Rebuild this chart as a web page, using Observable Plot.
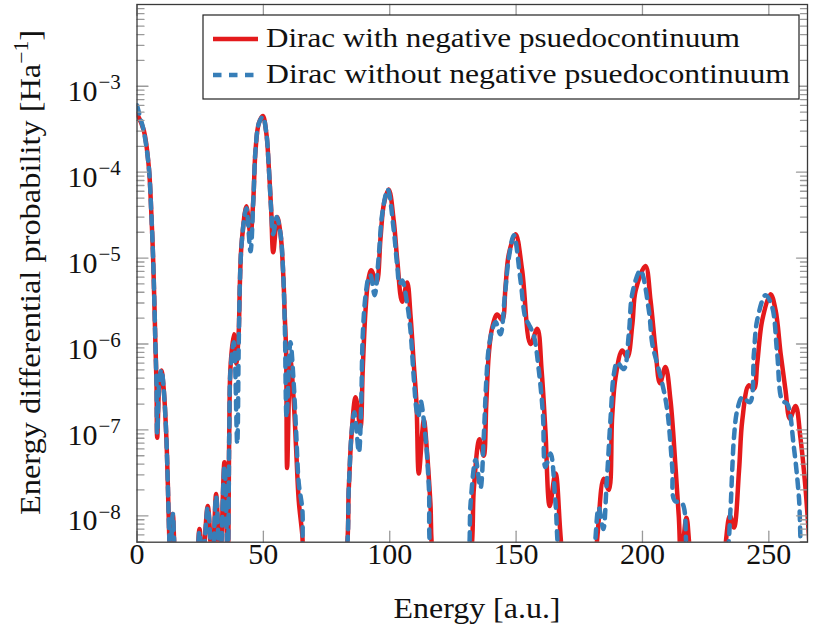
<!DOCTYPE html>
<html><head><meta charset="utf-8">
<script src="https://cdn.jsdelivr.net/npm/d3@7"></script>
<script src="https://cdn.jsdelivr.net/npm/@observablehq/plot@0.6"></script>
<style>body{margin:0;background:#fff} svg{display:block}</style>
</head><body><div id="chart"></div>
<script>
// ---- data ----
const seriesNames = ["Dirac with negative psuedocontinuum", "Dirac without negative psuedocontinuum"];
const seriesColors = ["#e41a1c", "#377eb8"];

const energyWith = [0,2.69,4.67,5.62,6.41,6.92,7.32,7.72,7.99,9.02,9.69,10.6,11.55,12.19,12.74,13.2,14.17,15.3,19.0,23.3,24.73,25.9,28.0,29.8,31.3,32.85,34.6,35.9,36.5,37.0,38.3,39.25,40.2,40.7,41.2,42.0,42.7,43.3,44.9,46.0,46.9,48.2,49.8,51.2,52.15,53.1,53.9,55.5,56.8,57.85,58.5,59.0,59.4,60.7,62.0,63.0,64.0,65.4,66.5,75,82.5,83.8,84.8,86.5,88.4,89.3,90.4,91.5,92.7,94.8,96.35,97.7,99.6,101.6,103.0,104.9,106.9,108.2,109.5,110.6,111.5,113.5,114.8,116.1,117.3,125,131.9,133.3,135.5,137.2,138.2,139.2,140.55,142.5,144.5,145.8,147.1,149.8,152.4,155.7,158.4,160.1,161.6,163.3,165.6,168.6,175,181.1,184.7,186.7,188.0,189.35,192.0,194.0,196.0,197.3,201.2,203.2,205.2,206.9,209.1,211.1,213.1,214.4,215.3,217.4,219.3,226,232.0,234.6,236.2,238.2,239.5,242.1,244.1,245.4,247.4,250.7,252.7,254.7,256.6,258.3,260.6,262.5,264.5,266.5];
const probWith = [4.8e-4,3.07e-4,1.15e-4,3.6e-5,9.3e-6,2.7e-6,9.1e-7,3.4e-7,8.1e-8,4.1e-7,4.9e-7,2.9e-7,9.1e-8,2.4e-8,6e-9,3e-9,1.05e-8,3e-9,1e-9,2.5e-9,7e-9,2.5e-9,1.3e-8,2.5e-9,1.8e-8,2.5e-9,4.2e-8,3e-9,9e-8,5.4e-7,1.3e-6,5.9e-7,1.3e-6,5e-6,1.23e-5,2.3e-5,3.4e-5,4.0e-5,1.9e-5,4.7e-5,1.8e-4,3.7e-4,4.5e-4,2.8e-4,1.15e-4,3.6e-5,1.17e-5,3.0e-5,1.9e-5,6.6e-6,2.0e-6,8.4e-7,3.6e-8,6.5e-7,2.2e-7,5.7e-8,1.5e-8,6e-9,2e-9,5e-10,3e-9,2.1e-8,8.1e-8,2.4e-7,1.07e-7,4.9e-7,2.4e-6,5.5e-6,7.2e-6,5.2e-6,1.7e-5,4.3e-5,6.3e-5,2.7e-5,9.3e-6,3.1e-6,5.2e-6,2.2e-6,5.9e-7,2.0e-7,3.1e-8,1.3e-7,5.3e-8,1.4e-8,3e-9,5e-10,3e-9,2.1e-8,7.8e-8,5e-8,2.0e-7,7.6e-7,1.55e-6,2.2e-6,1.9e-6,4.6e-6,1.1e-5,1.9e-5,7.2e-6,1.0e-6,1.5e-6,4.9e-7,9.8e-8,1.3e-8,3.1e-8,3e-9,5e-10,3e-9,2.7e-8,2.0e-8,1.4e-7,4.1e-7,8.4e-7,7e-7,1.7e-6,4.2e-6,8.1e-6,3.2e-6,8.4e-7,3.5e-7,5.4e-7,2.2e-7,3.6e-8,9.5e-9,3e-9,9.5e-9,3e-9,5e-10,3e-9,1.0e-8,7.3e-9,3.35e-8,1.3e-7,3.3e-7,3e-7,5.9e-7,1.9e-6,3.8e-6,2.45e-6,7.6e-7,2.9e-7,1.35e-7,1.9e-7,8.1e-8,2.1e-8,3e-9];

const energyWithout = [0,1.4,2.69,4.67,5.62,6.41,6.92,7.32,7.72,7.99,9.02,9.69,10.6,11.55,12.19,12.74,13.2,14.17,15.3,19.0,23.3,24.73,25.9,28.0,29.8,31.3,32.85,34.6,35.9,36.5,37.0,38.3,39.65,40.25,40.7,41.2,42.0,42.7,43.3,44.9,46.0,46.9,48.2,49.8,51.2,52.15,53.1,53.9,55.3,56.8,57.85,58.5,59.2,60.7,62.0,63.0,64.0,65.4,66.5,75,82.5,83.8,85.0,86.0,87.8,88.7,89.3,90.4,91.7,92.4,94.0,95.7,97.0,99.2,101.6,103.0,103.9,104.9,106.9,108.2,109.5,110.6,111.3,112.2,114.2,115.5,116.6,125,131.0,132.0,134.0,135.9,137.2,138.2,139.2,140.8,141.9,143.8,145.5,147.1,149.1,151.75,153.7,155.0,157.0,159.0,160.6,161.6,163.6,165.6,167.3,175,180.5,182.7,184.5,185.8,187.4,188.7,190.0,192.6,194.6,196.0,199.2,202.5,203.9,205.8,207.8,209.8,211.8,212.7,215.7,218.0,226,233.2,234.8,235.5,236.2,237.5,239.5,242.5,244.1,245.4,248.7,251.3,253.3,255.3,257.3,259.9,261.9,263.3,265.5];
const probWithout = [6.0e-4,4.2e-4,3.0e-4,1.15e-4,3.6e-5,9.3e-6,2.7e-6,9.1e-7,3.4e-7,9e-8,4.3e-7,5.0e-7,2.9e-7,9.1e-8,2.4e-8,6e-9,3e-9,1.05e-8,3e-9,1e-9,2.5e-9,6.5e-9,2.5e-9,1.25e-8,2.5e-9,1.7e-8,2.5e-9,3.8e-8,3e-9,9e-8,5.0e-7,1.05e-6,6.9e-8,1.0e-6,5e-6,1.23e-5,2.3e-5,3.3e-5,3.8e-5,1.2e-5,4.5e-5,1.8e-4,3.7e-4,4.4e-4,2.8e-4,1.15e-4,3.6e-5,1.9e-5,3.0e-5,1.9e-5,6.6e-6,1.6e-6,1.4e-7,1.05e-6,3.5e-7,9e-8,2.4e-8,1.2e-8,2e-9,5e-10,3e-9,2.1e-8,1.0e-7,1.6e-7,5.5e-8,2e-7,1.2e-6,3.6e-6,6e-6,6.3e-6,3.7e-6,1.1e-5,3.2e-5,6.3e-5,2.1e-5,7.9e-6,5e-6,5.5e-6,2.95e-6,1.45e-6,4.1e-7,1.7e-7,1.4e-7,2.2e-7,8e-8,2.1e-8,3e-9,5e-10,3e-9,1.4e-8,4.5e-8,2.1e-8,8.3e-8,3.7e-7,9.1e-7,1.55e-6,1.8e-6,1.3e-6,3.5e-6,1.0e-5,1.85e-5,5.5e-6,2.0e-6,1.7e-6,1.25e-6,4.9e-7,1.55e-7,3.7e-8,5.3e-8,1.4e-8,3e-9,5e-10,3e-9,1.25e-8,7e-9,2.3e-8,1.4e-7,4.5e-7,6.1e-7,5.1e-7,1.3e-6,3.9e-6,7.2e-6,2.5e-6,1.0e-6,5.9e-7,3.5e-7,1.7e-7,3.6e-8,1.5e-8,1.4e-8,3e-9,5e-10,3e-9,1.15e-8,3.35e-8,8.1e-8,1.7e-7,2.4e-7,2.1e-7,7.8e-7,1.9e-6,3.7e-6,2.7e-6,7.8e-7,2.2e-7,2.0e-7,6.3e-8,1.65e-8,3e-9,2e-9];

const xTicks = [0, 50, 100, 150, 200, 250];
const yTicks = [1e-8, 1e-7, 1e-6, 1e-5, 1e-4, 1e-3];
const xDomain = [0, 265.3];
const yDomain = [4.93e-9, 8.95e-3];

// ---- build tables ----
const withData = energyWith.map((e, i) => ({E: e, P: probWith[i]}));
const withoutData = energyWithout.map((e, i) => ({E: e, P: probWithout[i]}));
const yMinor = [];
for (let k = -9; k <= -3; k++) for (let m = 2; m <= 9; m++) {
  const v = m * Math.pow(10, k);
  if (v >= yDomain[0] && v <= yDomain[1]) yMinor.push(v);
}
const up = {draw(ctx, l) { ctx.moveTo(0, 0); ctx.lineTo(0, -l); }};
const tickStyle = {stroke: "#9a9a9a", strokeWidth: 1.3, shape: up, anchor: "start"};
const font = "Liberation Serif";

const plot = Plot.plot({
  width: 813, height: 630,
  marginLeft: 136.5, marginRight: 6, marginTop: 4, marginBottom: 88.3,
  x: {domain: xDomain, axis: null},
  y: {type: "log", domain: yDomain, axis: null},
  style: {fontFamily: font, background: "white", overflow: "visible"},
  marks: [
    Plot.line(withData, {x: "E", y: "P", stroke: seriesColors[0], strokeWidth: 4.5, curve: "catmull-rom", clip: true}),
    Plot.line(withoutData, {x: "E", y: "P", stroke: seriesColors[1], strokeWidth: 4.5, strokeDasharray: "8.5,7.5", curve: "catmull-rom", clip: true}),
    // ticks (inside, mirrored)
    Plot.vector(xTicks, {x: d => d, frameAnchor: "bottom", length: 11, rotate: 0, ...tickStyle}),
    Plot.vector(xTicks, {x: d => d, frameAnchor: "top", length: 11, rotate: 180, ...tickStyle}),
    Plot.vector(yTicks, {y: d => d, frameAnchor: "left", length: 11, rotate: 90, ...tickStyle}),
    Plot.vector(yTicks, {y: d => d, frameAnchor: "right", length: 11, rotate: -90, ...tickStyle}),
    Plot.vector(yMinor, {y: d => d, frameAnchor: "left", length: 7, rotate: 90, ...tickStyle}),
    Plot.vector(yMinor, {y: d => d, frameAnchor: "right", length: 7, rotate: -90, ...tickStyle}),
    Plot.frame({stroke: "#3a3a3a", strokeWidth: 1.3}),
    // tick labels
    Plot.text(xTicks, {x: d => d, frameAnchor: "bottom", text: d => String(d), dy: 22, fontSize: 30, fill: "#111"}),
    Plot.text(yTicks, {y: d => d, frameAnchor: "left", text: () => "10", textAnchor: "end", dx: -39.5, dy: 5, fontSize: 30, fill: "#111"}),
    Plot.text(yTicks, {y: d => d, frameAnchor: "left", text: d => "\u2212" + Math.abs(Math.round(Math.log10(d))), textAnchor: "start", dx: -38.5, dy: -4, fontSize: 21, fill: "#111"})
  ]
});
document.getElementById("chart").appendChild(plot);

// ---- axis titles and legend ----
const svg = d3.select(plot);
svg.append("text").attr("x", 477).attr("y", 618).attr("text-anchor", "middle")
  .attr("font-family", font).attr("font-size", 30).attr("fill", "#111")
  .attr("textLength", 167).attr("lengthAdjust", "spacingAndGlyphs").text("Energy [a.u.]");
const yl = svg.append("text").attr("transform", "translate(40,272.5) rotate(-90)").attr("text-anchor", "middle")
  .attr("font-family", font).attr("font-size", 30).attr("fill", "#111")
  .attr("textLength", 485).attr("lengthAdjust", "spacingAndGlyphs");
yl.append("tspan").text("Energy differential probability [Ha");
yl.append("tspan").attr("dy", -12).attr("font-size", 20).text("\u22121");
yl.append("tspan").attr("dy", 12).text("]");

const lg = svg.append("g");
lg.append("rect").attr("x", 203).attr("y", 15).attr("width", 596).attr("height", 84)
  .attr("fill", "white").attr("stroke", "#222").attr("stroke-width", 1.2);
const rows = [{y: 39, dash: null, tl: 474}, {y: 75, dash: "8.5,7.5", tl: 524}];
rows.forEach((r, i) => {
  const ln = lg.append("line").attr("x1", 213).attr("x2", 258).attr("y1", r.y).attr("y2", r.y)
    .attr("stroke", seriesColors[i]).attr("stroke-width", 4.5);
  if (r.dash) ln.attr("stroke-dasharray", r.dash);
  lg.append("text").attr("x", 266).attr("y", r.y + 8).attr("text-anchor", "start")
    .attr("font-family", font).attr("font-size", 27.5)
    .attr("fill", "#111").attr("textLength", r.tl).attr("lengthAdjust", "spacingAndGlyphs").text(seriesNames[i]);
});
</script></body></html>
